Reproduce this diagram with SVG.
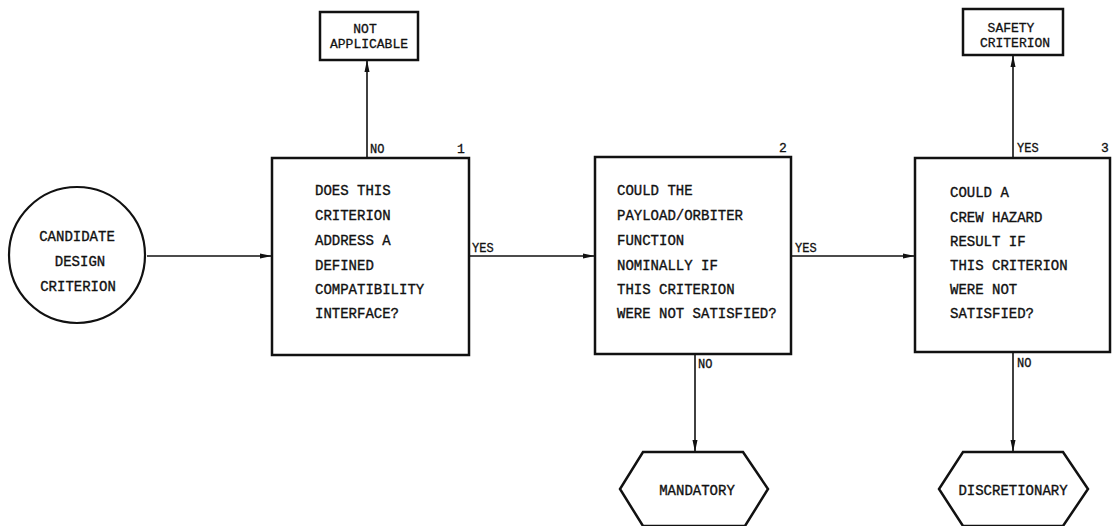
<svg xmlns="http://www.w3.org/2000/svg" width="1113" height="526" viewBox="0 0 1113 526">
<defs>
<style>
.box{fill:#fff;stroke:#111;stroke-width:2.5}
.t{font-family:"Liberation Mono","DejaVu Sans Mono",monospace;font-size:14px;fill:#111;stroke:#111;stroke-width:0.35}
.c{text-anchor:middle}
.s{font-family:"Liberation Mono","DejaVu Sans Mono",monospace;font-size:12px;fill:#111;stroke:#111;stroke-width:0.3}
.n{font-family:"Liberation Mono","DejaVu Sans Mono",monospace;font-size:13px;fill:#111;stroke:#111;stroke-width:0.3}
.ln{fill:none;stroke:#111;stroke-width:1.6}
</style>
<marker id="ah" viewBox="0 0 12 6" refX="12" refY="3" markerWidth="12" markerHeight="6" markerUnits="userSpaceOnUse" orient="auto">
<path d="M0,0.5 L12,3 L0,5.5 Z" fill="#111"/>
</marker>
</defs>
<rect width="1113" height="526" fill="#fff"/>

<g id="connectors">
<line class="ln" x1="147" y1="256" x2="272" y2="256" marker-end="url(#ah)"/>
<line class="ln" x1="469" y1="256" x2="595" y2="256" marker-end="url(#ah)"/>
<line class="ln" x1="792" y1="256" x2="915" y2="256" marker-end="url(#ah)"/>
<line class="ln" x1="367" y1="158" x2="367" y2="60" marker-end="url(#ah)"/>
<line class="ln" x1="1013" y1="158" x2="1013" y2="55" marker-end="url(#ah)"/>
<line class="ln" x1="695" y1="354" x2="695" y2="452" marker-end="url(#ah)"/>
<line class="ln" x1="1013" y1="352" x2="1013" y2="452" marker-end="url(#ah)"/>
<text class="s" x="370" y="153">NO</text>
<text class="s" x="472" y="252">YES</text>
<text class="s" x="795" y="252">YES</text>
<text class="s" x="1017" y="152">YES</text>
<text class="s" x="698" y="368">NO</text>
<text class="s" x="1017" y="367">NO</text>
</g>

<g id="start">
<circle cx="77" cy="255" r="68" fill="#fff" stroke="#111" stroke-width="2.2"/>
<text class="t c" x="77" y="241">CANDIDATE</text>
<text class="t c" x="80" y="266">DESIGN</text>
<text class="t c" x="78" y="291">CRITERION</text>
</g>

<g id="q1">
<rect class="box" x="272" y="158" width="197" height="197"/>
<text class="n" x="457" y="153">1</text>
<text class="t" x="315" y="195">DOES THIS</text>
<text class="t" x="315" y="220">CRITERION</text>
<text class="t" x="315" y="245">ADDRESS A</text>
<text class="t" x="315" y="270">DEFINED</text>
<text class="t" x="315" y="294">COMPATIBILITY</text>
<text class="t" x="315" y="318">INTERFACE?</text>
</g>

<g id="q2">
<rect class="box" x="595" y="157" width="196" height="197"/>
<text class="n" x="779" y="152">2</text>
<text class="t" x="617" y="195">COULD THE</text>
<text class="t" x="617" y="220">PAYLOAD/ORBITER</text>
<text class="t" x="617" y="245">FUNCTION</text>
<text class="t" x="617" y="270">NOMINALLY IF</text>
<text class="t" x="617" y="294">THIS CRITERION</text>
<text class="t" x="617" y="318">WERE NOT SATISFIED?</text>
</g>

<g id="q3">
<rect class="box" x="915" y="158" width="195" height="194"/>
<text class="n" x="1101" y="152">3</text>
<text class="t" x="950" y="197">COULD A</text>
<text class="t" x="950" y="222">CREW HAZARD</text>
<text class="t" x="950" y="246">RESULT IF</text>
<text class="t" x="950" y="270">THIS CRITERION</text>
<text class="t" x="950" y="294">WERE NOT</text>
<text class="t" x="950" y="318">SATISFIED?</text>
</g>

<g id="not-applicable">
<rect class="box" x="320" y="12" width="98" height="48"/>
<text class="n c" x="365" y="33">NOT</text>
<text class="n c" x="369" y="48">APPLICABLE</text>
</g>

<g id="safety">
<rect class="box" x="963" y="9" width="100" height="46"/>
<text class="n c" x="1011" y="32">SAFETY</text>
<text class="n c" x="1015" y="47">CRITERION</text>
</g>

<g id="mandatory">
<polygon class="box" points="643,452 743,452 768,489 745,526 643,526 620,489"/>
<text class="t c" x="697" y="495">MANDATORY</text>
</g>

<g id="discretionary">
<polygon class="box" points="963,452 1063,452 1088,489 1063,526 963,526 939,489"/>
<text class="t c" x="1013" y="495">DISCRETIONARY</text>
</g>
</svg>
